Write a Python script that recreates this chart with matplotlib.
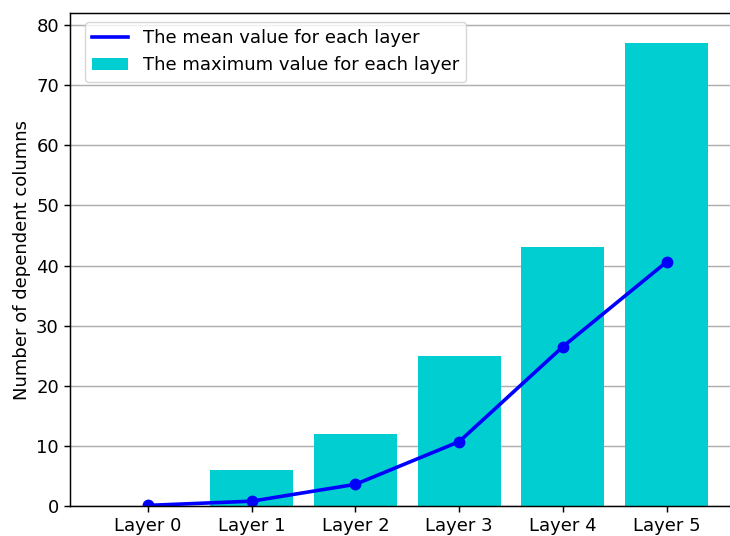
import matplotlib
matplotlib.use("Agg")
import matplotlib.pyplot as plt
from matplotlib.lines import Line2D
import numpy as np

layers = ["Layer 0", "Layer 1", "Layer 2", "Layer 3", "Layer 4", "Layer 5"]
max_vals = [0, 6, 12, 25, 43, 77]
mean_vals = [0.1, 0.8, 3.6, 10.7, 26.5, 40.6]

plt.rcParams["font.size"] = 13
plt.rcParams["axes.linewidth"] = 1.05
plt.rcParams["xtick.major.size"] = 4.5
plt.rcParams["ytick.major.size"] = 4.5
plt.rcParams["xtick.major.width"] = 1.05
plt.rcParams["ytick.major.width"] = 1.05

fig = plt.figure(figsize=(7.3, 5.36), dpi=100)
ax = fig.add_axes([70 / 730, 30 / 536, 662 / 730, 493 / 536])

x = np.arange(len(layers))
ax.grid(axis="y", color="#b0b0b0", lw=1.05)
ax.set_axisbelow(True)
bars = ax.bar(x, max_vals, width=0.8, color="darkturquoise")
ax.plot(x, mean_vals, "o-", color="blue", lw=2.6, ms=7.5)

ax.set_xticks(x)
ax.set_xticklabels(layers)
ax.set_xlim(-0.75, 5.63)
ax.set_ylim(0, 82)
ax.set_ylabel("Number of dependent columns")

handles = [Line2D([], [], color="blue", lw=2.6), bars]
ax.legend(handles, ["The mean value for each layer", "The maximum value for each layer"],
          loc="upper left", bbox_to_anchor=(0.009, 1.0))

fig.savefig("out.png", dpi=100)
